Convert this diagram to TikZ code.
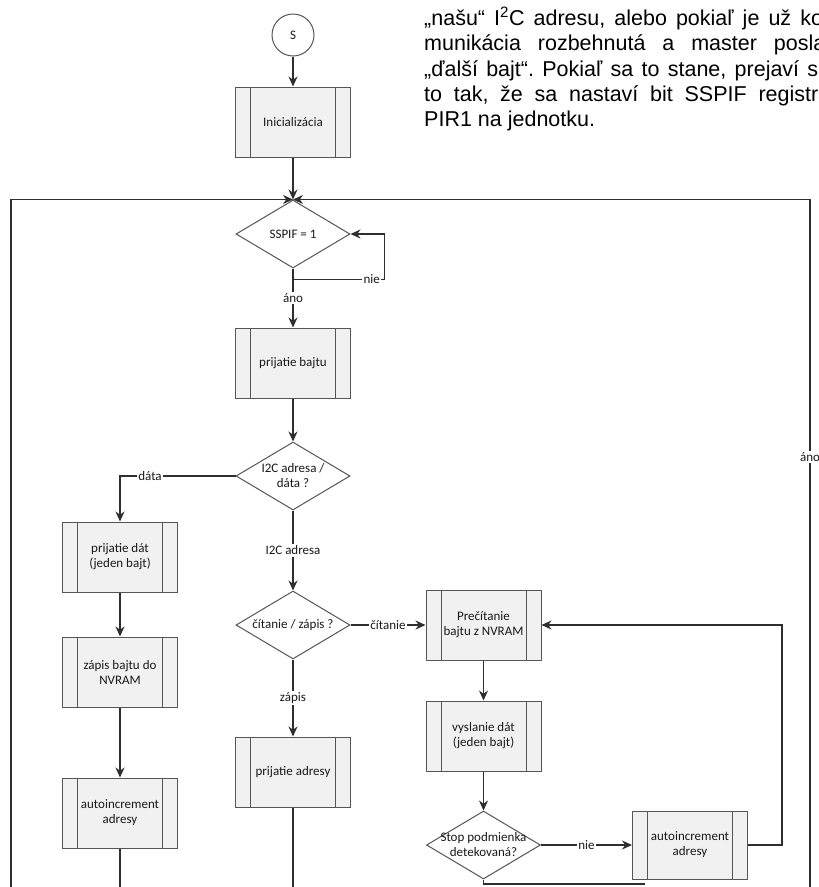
\documentclass[tikz,border=0pt]{standalone}
\usepackage{fontspec}
\setmainfont{Carlito}
\newfontfamily\clanokfont{Liberation Sans}
\usepackage{xcolor}
\usepackage{tikz}
\usetikzlibrary{
    shapes.geometric,
    arrows.meta,
    positioning
}
\frenchspacing
\definecolor{ciara}{HTML}{2E2E2E}
\definecolor{ram}{HTML}{555555}
\definecolor{vypln}{HTML}{F1F1F1}
\tikzstyle{proc} = [
    rectangle, draw=ram,
    line width=1pt,
    fill=vypln,
    minimum width=115pt,
    minimum height=70pt,
    align=center,
    path picture={
        \draw[ram, line width=1pt] ([xshift=15pt]path picture bounding box.north west) -- ([xshift=15pt]path picture bounding box.south west);
        \draw[ram, line width=1pt] ([xshift=-15pt]path picture bounding box.north east) -- ([xshift=-15pt]path picture bounding box.south east);
    }
]
\tikzstyle{decision} = [
    diamond, draw=ram,
    line width=1pt,
    fill=white,
    minimum width=114pt,
    minimum height=68pt,
    inner sep=0pt
]
\tikzstyle{arrow} = [
    line width=1.2pt,
    draw=ciara,
    -{Stealth[length=10pt,width=9pt]}
]
\tikzstyle{spoj} = [
    line width=1.2pt,
    draw=ciara
]

\begin{document}
\begin{tikzpicture}[
    x=1pt, y=-1pt,
    font=\fontsize{13}{15}\selectfont,
    text=black!90,
    lbl/.style={fill=white, inner sep=1.5pt},
    odsek/.style={anchor=base west, inner sep=0pt, text=black,
        font=\clanokfont\fontsize{21.5}{25}\selectfont}
]
\useasboundingbox (0,0) rectangle (819,887);

% Text stránky
\node[odsek] (r1) at (424,25) {\hbox to 406pt{„našu“ I\textsuperscript{2}C adresu, alebo pokiaľ je už ko-}};
\node[odsek] (r2) at (424,50.5) {\hbox to 406pt{munikácia rozbehnutá a master poslal}};
\node[odsek] (r3) at (424,76) {\hbox to 406pt{„ďalší bajt“. Pokiaľ sa to stane, prejaví sa}};
\node[odsek] (r4) at (424,101) {\hbox to 406pt{to tak, že sa nastaví bit SSPIF registra}};
\node[odsek] (r5) at (424,126) {PIR1 na jednotku.};

% Hlavná vetva
\node[circle, draw=ram, line width=1pt, minimum size=42pt, inner sep=0pt] (start) at (293,35) {S};
\node[proc, below=30pt of start] (init) {Inicializácia};
\node[decision, below=42pt of init, label={center:SSPIF = 1}] (sspif) {};
\node[proc, below=59pt of sspif] (bajt) {prijatie bajtu};
\node[decision, below=43pt of bajt, label={[align=center]center:I2C adresa /\\dáta ?}] (adr) {};
\node[decision, below=80pt of adr, label={center:čítanie / zápis ?}] (citzap) {};
\node[proc, below=77pt of citzap] (padr) {prijatie adresy};

% Zápis dát
\node[proc] (dat) at (120,557) {prijatie dát\\(jeden bajt)};
\node[proc, below=44pt of dat] (zapis) {zápis bajtu do\\NVRAM};
\node[proc, below=70pt of zapis] (ai1) {autoincrement\\adresy};

% Čítanie dát
\node[proc, right=75pt of citzap] (precit) {Prečítanie\\bajtu z NVRAM};
\node[proc, below=40pt of precit] (vysl) {vyslanie dát\\(jeden bajt)};
\node[decision, below=39pt of vysl, label={[align=center]center:Stop podmienka\\detekovaná?}] (stop) {};
\node[proc, right=91pt of stop, minimum height=68pt] (ai2) {autoincrement\\adresy};

% Voľné konce
\coordinate (lb) at (11,887);
\coordinate (rb) at (810,887);
\coordinate (a1b) at (ai1.south |- lb);
\coordinate (pab) at (padr.south |- lb);
\coordinate (sb) at (645,884);

% Spoje
\draw[arrow] (start) -- (init);
\draw[arrow] (init) -- (sspif);
\draw[arrow] (lb) |- (sspif.north);
\draw[arrow] (rb) |- node[lbl, pos=0.313] {áno} (sspif.north);
\draw[arrow] (sspif.south) -- ++(0,11) -| node[lbl, pos=0.43] {nie} ([xshift=34pt]sspif.east) -- (sspif.east);
\draw[arrow] (sspif) -- node[lbl] {áno} (bajt);
\draw[arrow] (bajt) -- (adr);
\draw[arrow] (adr.west) -| node[lbl, pos=0.37] {dáta} (dat.north);
\draw[arrow] (adr) -- node[lbl] {I2C adresa} (citzap);
\draw[arrow] (dat) -- (zapis);
\draw[arrow] (zapis) -- (ai1);
\draw[spoj] (ai1) -- (a1b);
\draw[arrow] (citzap) -- node[lbl] {čítanie} (precit);
\draw[arrow] (citzap) -- node[lbl] {zápis} (padr);
\draw[spoj] (padr) -- (pab);
\draw[arrow] (precit) -- (vysl);
\draw[arrow] (vysl) -- (stop);
\draw[arrow] (stop) -- node[lbl] {nie} (ai2);
\draw[arrow] (ai2.east) -- ++(34,0) |- (precit.east);
\draw[spoj] (stop.south) |- (sb);

\end{tikzpicture}
\end{document}
